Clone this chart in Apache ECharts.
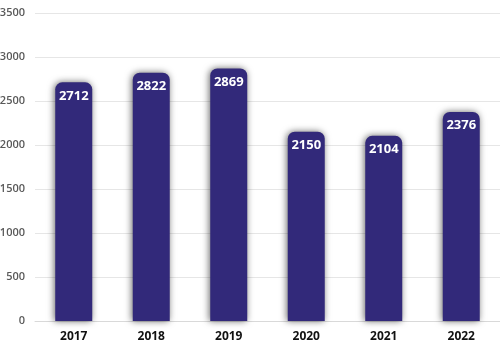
<!DOCTYPE html>
<html>
<head>
<meta charset="utf-8">
<script src="https://cdn.jsdelivr.net/npm/echarts@6/dist/echarts.min.js"></script>
<style>
  html, body { margin: 0; padding: 0; background: #fff; }
  #chart { width: 500px; height: 350px; }
</style>
</head>
<body>
<div id="chart"></div>
<script>
// Yearly totals
const years = ['2017', '2018', '2019', '2020', '2021', '2022'];
const totals = [2712, 2822, 2869, 2150, 2104, 2376];

const chart = echarts.init(document.getElementById('chart'));
chart.setOption({
  animation: false,
  grid: { left: 35, right: 0, top: 13, bottom: 29, containLabel: false, outerBoundsMode: 'none' },
  xAxis: {
    type: 'category',
    data: years,
    axisLine: { show: true, lineStyle: { color: '#d9d9d9' } },
    axisTick: { show: false },
    axisLabel: {
      color: '#111', fontWeight: 'bold', fontSize: 12,
      fontFamily: 'Open Sans', margin: 10
    }
  },
  yAxis: {
    type: 'value',
    min: 0, max: 3500, interval: 500,
    axisLine: { show: false },
    axisTick: { show: false },
    splitLine: { lineStyle: { color: '#e6e6e6' } },
    axisLabel: {
      color: '#595959', fontSize: 11, fontWeight: 600, fontFamily: 'Open Sans', margin: 10,
      formatter: v => String(v)
    }
  },
  series: [{
    type: 'bar',
    data: totals,
    barWidth: 37,
    itemStyle: {
      color: '#32297a',
      borderRadius: [7, 7, 0, 0],
      shadowBlur: 7,
      shadowColor: 'rgba(0,0,0,0.6)',
      shadowOffsetX: -1,
      shadowOffsetY: 0
    },
    label: {
      show: true,
      position: 'insideTop',
      distance: 7,
      color: '#fff',
      fontWeight: 'bold',
      fontSize: 13,
      fontFamily: 'Open Sans'
    }
  }]
});
</script>
</body>
</html>
